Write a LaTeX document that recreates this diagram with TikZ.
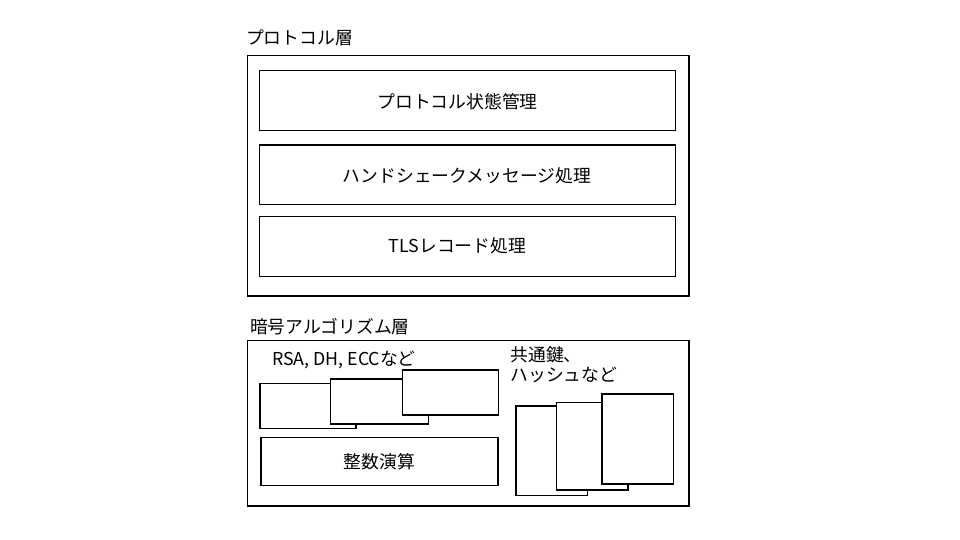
\documentclass[tikz,border=0pt]{standalone}
\usepackage{fontspec}
\setmainfont{Noto Sans CJK JP}
\begin{document}
\begin{tikzpicture}[x=1pt,y=-1pt,
  box/.style={draw=black, line width=1.3pt, fill=white, inner sep=0pt, outer sep=0pt, rectangle},
  lbl/.style={inner sep=0pt, outer sep=0pt},
  every node/.style={font=\fontsize{17.8}{20}\selectfont}]
\useasboundingbox (0,0) rectangle (960,540);
% Protocol layer
\node[lbl, anchor=west] (ptitle) at (246,38) {プロトコル層};
\node[box, minimum width=441.5pt, minimum height=240.3pt] (player) at (468.25,175.85) {};
\node[box, minimum width=415.6pt, minimum height=60pt] (state) at (467.5,100.7) {};
\node[lbl] (statet) at (457.5,101.5) {プロトコル状態管理};
\node[box, minimum width=415.6pt, minimum height=59.3pt] (hs) at (467.5,174.7) {};
\node[lbl] (hst) at (467,175.5) {ハンドシェークメッセージ処理};
\node[box, minimum width=415.6pt, minimum height=60pt] (rec) at (467.5,246.7) {};
\node[lbl] (rect) at (457.5,245.5) {TLSレコード処理};
% Crypto layer
\node[lbl, anchor=west] (ctitle) at (250,326.7) {暗号アルゴリズム層};
\node[box, minimum width=441.5pt, minimum height=165.3pt] (clayer) at (468.25,423.35) {};
\node[lbl, anchor=west] (pk) at (272,360) {RSA, DH, ECCなど};
\node[box, minimum width=96pt, minimum height=44.6pt] (a1) at (308,406) {};
\node[box, minimum width=97.6pt, minimum height=45pt] (a2) at (379.5,401.5) {};
\node[box, minimum width=96pt, minimum height=45pt] (a3) at (450.7,392.5) {};
\node[box, minimum width=237pt, minimum height=48pt] (int) at (379.5,461.7) {整数演算};
\node[lbl, anchor=west, align=left] (sym) at (510.5,365) {共通鍵、\\ハッシュなど};
\node[box, minimum width=71.3pt, minimum height=89.7pt] (b1) at (551.7,450.85) {};
\node[box, minimum width=71.3pt, minimum height=87.3pt] (b2) at (592.35,446.35) {};
\node[box, minimum width=71.3pt, minimum height=90pt] (b3) at (637.65,439) {};
\end{tikzpicture}
\end{document}
